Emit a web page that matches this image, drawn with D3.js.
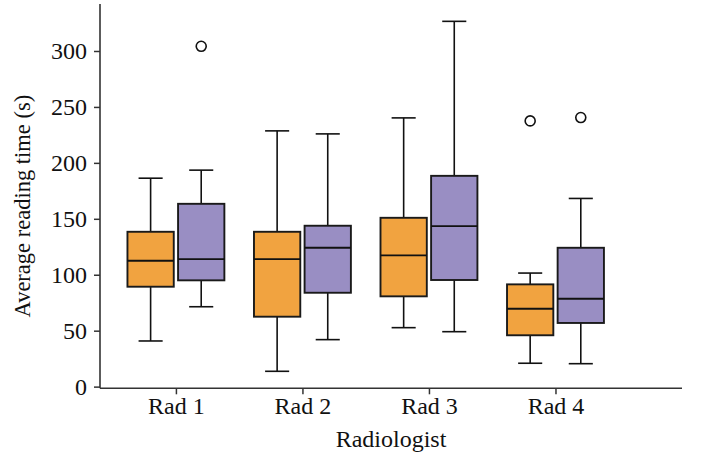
<!DOCTYPE html>
<html>
<head>
<meta charset="utf-8">
<script src="https://cdn.jsdelivr.net/npm/d3@7"></script>
<style>
  html, body { margin: 0; padding: 0; background: #fff; }
  svg { display: block; }
  text { font-family: "Liberation Serif", "Times New Roman", serif; fill: #111; }
</style>
</head>
<body>
<svg id="chart" width="702" height="458"></svg>
<script>
// ---- data ----
const categories = ["Rad 1", "Rad 2", "Rad 3", "Rad 4"];
const yTicks = [0, 50, 100, 150, 200, 250, 300];

const orangeLow  = [40.8, 13.7, 52.7, 20.9];
const orangeQ1   = [89.3, 62.5, 80.7, 45.9];
const orangeMed  = [112.5, 114.0, 117.3, 69.6];
const orangeQ3   = [138.4, 138.4, 150.9, 91.4];
const orangeHigh = [186.3, 228.6, 240.2, 101.5];
const orangeOut  = [[], [], [], [237.5]];

const purpleLow  = [71.4, 42.0, 49.1, 20.5];
const purpleQ1   = [95.0, 83.9, 95.3, 56.9];
const purpleMed  = [114.0, 124.1, 143.5, 78.6];
const purpleQ3   = [163.4, 143.8, 188.4, 124.1];
const purpleHigh = [193.5, 225.9, 326.5, 168.2];
const purpleOut  = [[304.2], [], [], [240.5]];

const colors = ["#f1a340", "#998ec3"];

// ---- build series table ----
function build(low, q1, med, q3, high, out, g) {
  return categories.map((c, i) => ({
    cat: i, group: g, low: low[i], q1: q1[i], med: med[i], q3: q3[i], high: high[i], out: out[i]
  }));
}
const boxes = [].concat(
  build(orangeLow, orangeQ1, orangeMed, orangeQ3, orangeHigh, orangeOut, 0),
  build(purpleLow, purpleQ1, purpleMed, purpleQ3, purpleHigh, purpleOut, 1)
);

// ---- layout ----
const svg = d3.select("#chart");
const mLeft = 100, mRight = 682, mTop = 4, mBottom = 388.3;
const fontSize = "24px";

const x = d3.scaleLinear().domain([-0.6, 4.0]).range([mLeft, mRight]);
const y = d3.scaleLinear().domain([-1.5, 342]).range([mBottom, mTop]);

const offset = 0.2, boxW = 0.366; // in category units
const bw = x(boxW) - x(0);
const capW = bw * 0.52;
const cx = d => x(d.cat + (d.group === 0 ? -offset : offset));

const g = svg.append("g");

// whiskers
g.selectAll("line.wlo").data(boxes).enter().append("line")
  .attr("x1", cx).attr("x2", cx)
  .attr("y1", d => y(d.q1)).attr("y2", d => y(d.low))
  .attr("stroke", "#111").attr("stroke-width", 1.6);
g.selectAll("line.whi").data(boxes).enter().append("line")
  .attr("x1", cx).attr("x2", cx)
  .attr("y1", d => y(d.q3)).attr("y2", d => y(d.high))
  .attr("stroke", "#111").attr("stroke-width", 1.6);
// caps
g.selectAll("line.clo").data(boxes).enter().append("line")
  .attr("x1", d => cx(d) - capW / 2).attr("x2", d => cx(d) + capW / 2)
  .attr("y1", d => y(d.low)).attr("y2", d => y(d.low))
  .attr("stroke", "#111").attr("stroke-width", 1.6);
g.selectAll("line.chi").data(boxes).enter().append("line")
  .attr("x1", d => cx(d) - capW / 2).attr("x2", d => cx(d) + capW / 2)
  .attr("y1", d => y(d.high)).attr("y2", d => y(d.high))
  .attr("stroke", "#111").attr("stroke-width", 1.6);

// boxes
g.selectAll("rect.box").data(boxes).enter().append("rect")
  .attr("x", d => cx(d) - bw / 2)
  .attr("width", bw)
  .attr("y", d => y(d.q3))
  .attr("height", d => y(d.q1) - y(d.q3))
  .attr("fill", d => colors[d.group])
  .attr("stroke", "#1a1a1a").attr("stroke-width", 1.9);

// medians
g.selectAll("line.med").data(boxes).enter().append("line")
  .attr("x1", d => cx(d) - bw / 2).attr("x2", d => cx(d) + bw / 2)
  .attr("y1", d => y(d.med)).attr("y2", d => y(d.med))
  .attr("stroke", "#111").attr("stroke-width", 1.9);

// outliers
const outs = [];
boxes.forEach(d => d.out.forEach(v => outs.push({ d: d, v: v })));
g.selectAll("circle.out").data(outs).enter().append("circle")
  .attr("cx", o => cx(o.d)).attr("cy", o => y(o.v)).attr("r", 5)
  .attr("fill", "none").attr("stroke", "#111").attr("stroke-width", 1.6);

// axes
const yAxis = d3.axisLeft(y).tickValues(yTicks).tickSize(6).tickSizeOuter(0).tickPadding(7);
const yg = svg.append("g").attr("transform", `translate(${mLeft},0)`).call(yAxis);
const xAxis = d3.axisBottom(x).tickValues([0, 1, 2, 3]).tickFormat(i => categories[i])
  .tickSize(6).tickSizeOuter(0).tickPadding(3);
const xg = svg.append("g").attr("transform", `translate(0,${mBottom})`).call(xAxis);

[yg, xg].forEach(a => {
  a.select(".domain").remove();
  a.selectAll(".tick line").attr("stroke", "#333").attr("stroke-width", 1.5);
  a.selectAll(".tick text").style("font-size", fontSize).style("font-family", "'Liberation Serif', serif").attr("fill", "#111");
});

// spines
svg.append("line").attr("x1", mLeft).attr("x2", mLeft).attr("y1", mTop).attr("y2", mBottom)
  .attr("stroke", "#333").attr("stroke-width", 1.6);
svg.append("line").attr("x1", mLeft).attr("x2", mRight).attr("y1", mBottom).attr("y2", mBottom)
  .attr("stroke", "#333").attr("stroke-width", 1.6);

// axis labels
svg.append("text")
  .attr("x", (mLeft + mRight) / 2).attr("y", 446.5)
  .attr("text-anchor", "middle").style("font-size", fontSize)
  .text("Radiologist");
svg.append("text")
  .attr("transform", `translate(30,${(mTop + mBottom) / 2 + 10}) rotate(-90)`)
  .attr("text-anchor", "middle").style("font-size", "22.5px")
  .text("Average reading time (s)");
</script>
</body>
</html>
